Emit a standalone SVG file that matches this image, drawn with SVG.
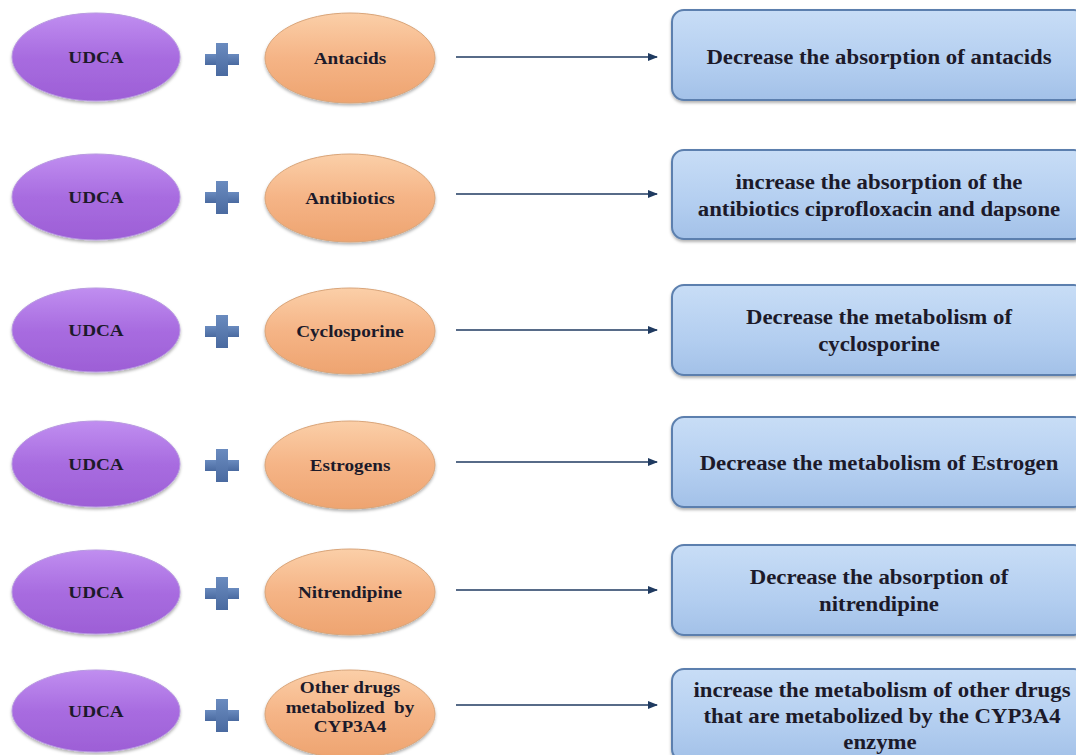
<svg xmlns="http://www.w3.org/2000/svg" width="1076" height="755" viewBox="0 0 1076 755">
<defs>
<linearGradient id="gP" x1="0" y1="0" x2="0" y2="1">
<stop offset="0" stop-color="#c08ef0"/><stop offset="0.5" stop-color="#a86ce0"/><stop offset="1" stop-color="#9d5fd6"/>
</linearGradient>
<linearGradient id="gO" x1="0" y1="0" x2="0" y2="1">
<stop offset="0" stop-color="#fbcfa8"/><stop offset="0.5" stop-color="#f5b486"/><stop offset="1" stop-color="#eea470"/>
</linearGradient>
<linearGradient id="gB" x1="0" y1="0" x2="0" y2="1">
<stop offset="0" stop-color="#c8ddf6"/><stop offset="0.6" stop-color="#b3cef0"/><stop offset="1" stop-color="#a3c1e8"/>
</linearGradient>
<linearGradient id="gPlus" x1="0" y1="0" x2="0" y2="1">
<stop offset="0" stop-color="#6a8bbf"/><stop offset="1" stop-color="#4a6aa0"/>
</linearGradient>
<filter id="sh" x="-10%" y="-10%" width="120%" height="130%">
<feDropShadow dx="0" dy="2" stdDeviation="1.5" flood-color="#000" flood-opacity="0.3"/>
</filter>
<marker id="ah" markerWidth="10" markerHeight="8" refX="9" refY="4" orient="auto" markerUnits="userSpaceOnUse">
<path d="M0,0 L10,4 L0,8 Z" fill="#1f3a60"/>
</marker>
<g id="plus"><rect x="-17" y="-5" width="34" height="11" fill="url(#gPlus)"/><rect x="-6" y="-16" width="12" height="33" fill="url(#gPlus)"/></g>
</defs>
<style>
.p{fill:url(#gP);stroke:#b89ae0;stroke-width:1;filter:url(#sh)}
.o{fill:url(#gO);stroke:#d9a57a;stroke-width:1;filter:url(#sh)}
.b{fill:url(#gB);stroke:#5b7fae;stroke-width:2;filter:url(#sh)}
.t{font-family:"Liberation Serif","Times New Roman",serif;font-weight:bold;text-anchor:middle;fill:#1c1a2a}
.s{font-size:17px}
.l{font-size:20px}
.c{stroke:#1f3a60;stroke-width:1.3;fill:none;marker-end:url(#ah)}
</style>
<rect width="1076" height="755" fill="#ffffff"/>

<g id="connectors">
<line class="c" x1="456" y1="57" x2="657" y2="57"/>
<line class="c" x1="456" y1="194" x2="657" y2="194"/>
<line class="c" x1="456" y1="330" x2="657" y2="330"/>
<line class="c" x1="456" y1="462" x2="657" y2="462"/>
<line class="c" x1="456" y1="590" x2="657" y2="590"/>
<line class="c" x1="456" y1="705" x2="657" y2="705"/>
</g>

<g id="udca1"><ellipse class="p" cx="96" cy="57" rx="84" ry="44"/><text class="t s" transform="translate(96,63) scale(1.13,1)">UDCA</text></g>
<g id="udca2"><ellipse class="p" cx="96" cy="197" rx="84" ry="43"/><text class="t s" transform="translate(96,203) scale(1.13,1)">UDCA</text></g>
<g id="udca3"><ellipse class="p" cx="96" cy="330" rx="84" ry="42"/><text class="t s" transform="translate(96,336) scale(1.13,1)">UDCA</text></g>
<g id="udca4"><ellipse class="p" cx="96" cy="464" rx="84" ry="43"/><text class="t s" transform="translate(96,470) scale(1.13,1)">UDCA</text></g>
<g id="udca5"><ellipse class="p" cx="96" cy="592" rx="84" ry="42"/><text class="t s" transform="translate(96,598) scale(1.13,1)">UDCA</text></g>
<g id="udca6"><ellipse class="p" cx="96" cy="711" rx="84" ry="41"/><text class="t s" transform="translate(96,717) scale(1.13,1)">UDCA</text></g>

<g id="plus1"><use href="#plus" x="222" y="59"/></g>
<g id="plus2"><use href="#plus" x="222" y="197"/></g>
<g id="plus3"><use href="#plus" x="222" y="331"/></g>
<g id="plus4"><use href="#plus" x="222" y="465"/></g>
<g id="plus5"><use href="#plus" x="222" y="593"/></g>
<g id="plus6"><use href="#plus" x="222" y="715"/></g>

<g id="drug1"><ellipse class="o" cx="350" cy="58" rx="85" ry="45"/><text class="t s" transform="translate(350,64) scale(1.13,1)">Antacids</text></g>
<g id="drug2"><ellipse class="o" cx="350" cy="198" rx="85" ry="44"/><text class="t s" transform="translate(350,204) scale(1.13,1)">Antibiotics</text></g>
<g id="drug3"><ellipse class="o" cx="350" cy="331" rx="85" ry="43"/><text class="t s" transform="translate(350,337) scale(1.13,1)">Cyclosporine</text></g>
<g id="drug4"><ellipse class="o" cx="350" cy="465" rx="85" ry="44"/><text class="t s" transform="translate(350,471) scale(1.13,1)">Estrogens</text></g>
<g id="drug5"><ellipse class="o" cx="350" cy="592" rx="85" ry="43"/><text class="t s" transform="translate(350,598) scale(1.13,1)">Nitrendipine</text></g>
<g id="drug6"><ellipse class="o" cx="350" cy="714" rx="85" ry="44"/>
<text class="t s" transform="translate(350,693) scale(1.13,1)">Other drugs</text>
<text class="t s" transform="translate(350,713) scale(1.13,1)" word-spacing="4">metabolized by</text>
<text class="t s" transform="translate(350,732) scale(1.13,1)">CYP3A4</text></g>

<g id="effect1"><rect class="b" x="672" y="10" width="414" height="90" rx="12"/><text class="t l" transform="translate(879,64) scale(1.14,1)">Decrease the absorption of antacids</text></g>
<g id="effect2"><rect class="b" x="672" y="150" width="414" height="89" rx="12"/>
<text class="t l" transform="translate(879,189) scale(1.14,1)">increase the absorption of the</text>
<text class="t l" transform="translate(879,216) scale(1.14,1)">antibiotics ciprofloxacin and dapsone</text></g>
<g id="effect3"><rect class="b" x="672" y="285" width="414" height="90" rx="12"/>
<text class="t l" transform="translate(879,324) scale(1.14,1)">Decrease the metabolism of</text>
<text class="t l" transform="translate(879,351) scale(1.14,1)">cyclosporine</text></g>
<g id="effect4"><rect class="b" x="672" y="417" width="414" height="90" rx="12"/><text class="t l" transform="translate(879,470) scale(1.14,1)">Decrease the metabolism of Estrogen</text></g>
<g id="effect5"><rect class="b" x="672" y="545" width="414" height="90" rx="12"/>
<text class="t l" transform="translate(879,584) scale(1.14,1)">Decrease the absorption of</text>
<text class="t l" transform="translate(879,611) scale(1.14,1)">nitrendipine</text></g>
<g id="effect6"><rect class="b" x="672" y="669" width="414" height="92" rx="12"/>
<text class="t l" transform="translate(882,697) scale(1.14,1)">increase the metabolism of other drugs</text>
<text class="t l" transform="translate(882,723) scale(1.14,1)">that are metabolized by the CYP3A4</text>
<text class="t l" transform="translate(880,749) scale(1.14,1)">enzyme</text></g>
</svg>
